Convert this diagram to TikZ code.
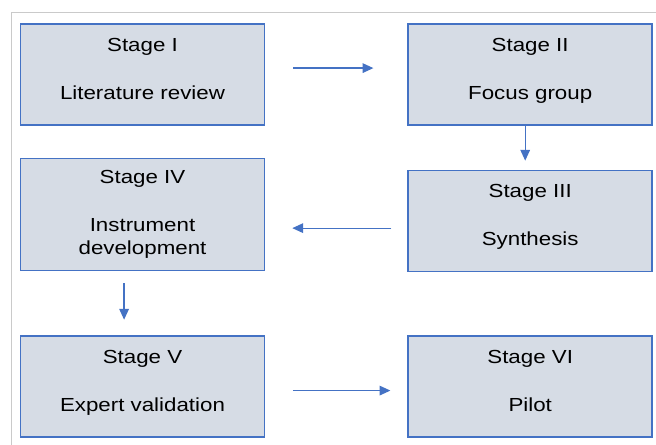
\documentclass[tikz,border=0pt]{standalone}
\usepackage{fontspec}
\setmainfont[FakeStretch=1.18]{Liberation Sans}
\usetikzlibrary{arrows.meta,positioning}
\definecolor{stageblue}{HTML}{4472C4}
\definecolor{stagefill}{HTML}{D6DCE5}
\definecolor{framegray}{HTML}{CACACA}
\tikzstyle{stage} = [rectangle, minimum width=6.1cm, minimum height=2.525cm, text centered, align=center, text depth=0.3cm, draw=stageblue, fill=stagefill, line width=1.1pt, font=\fontsize{13.45pt}{16pt}\selectfont]
\tikzstyle{arrow} = [draw=stageblue, line width=0.85pt, -{Triangle[length=0.27cm,width=0.24cm]}]

\begin{document}
\begin{tikzpicture}[x=0.025cm, y=-0.025cm, node distance=3.5cm]
\useasboundingbox (0,0) rectangle (656,445);
\draw [framegray, line width=0.6pt] (11,450) |- (660,12.7);

\node (s1) [stage] at (142.5,74.5) {Stage I\\[0.64cm]Literature review};
\node (s2) [stage, right of=s1, xshift=6.19cm] {Stage II\\[0.64cm]Focus group};
\node (s3) [stage, below of=s2, yshift=-0.16cm] {Stage III\\[0.64cm]Synthesis};
\node (s4) [stage, below of=s1, minimum height=2.79cm, text depth=0.1cm] {Stage IV\\[0.64cm]Instrument\\development};
\node (s5) [stage, below of=s4, yshift=-0.8cm] {Stage V\\[0.64cm]Expert validation};
\node (s6) [stage, below of=s3, yshift=-0.64cm] {Stage VI\\[0.64cm]Pilot};

\draw [arrow, shorten <=0.7cm, shorten >=0.85cm] ([yshift=0.16cm]s1.east) -- ([yshift=0.16cm]s1.east -| s2.west);
\draw [arrow, shorten >=0.225cm] ([xshift=-0.125cm]s2.south) -- ([xshift=-0.125cm]s2.south |- s3.north);
\draw [arrow, shorten <=0.4cm, shorten >=0.675cm] ([yshift=-0.18cm]s3.west) -- ([yshift=-0.18cm]s3.west -| s4.east);
\draw [arrow, shorten <=0.3cm, shorten >=0.39cm] ([xshift=-0.46cm]s4.south) -- ([xshift=-0.46cm]s4.south |- s5.north);
\draw [arrow, shorten <=0.69cm, shorten >=0.425cm] ([yshift=-0.1cm]s5.east) -- ([yshift=-0.1cm]s5.east -| s6.west);

\end{tikzpicture}
\end{document}
